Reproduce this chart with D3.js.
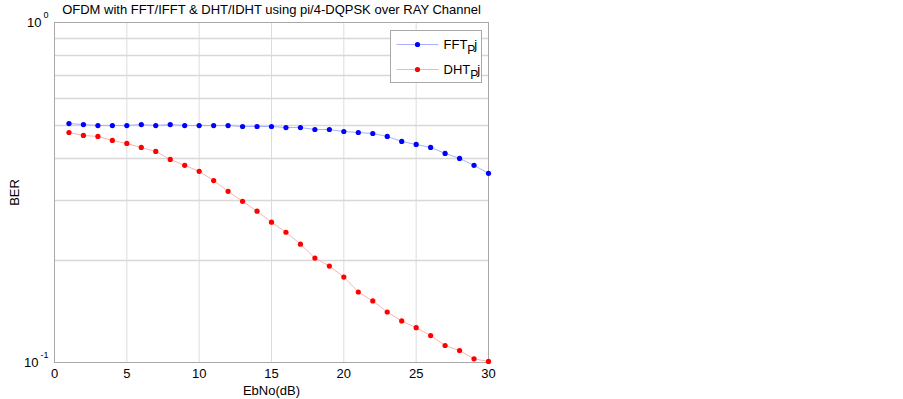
<!DOCTYPE html>
<html>
<head>
<meta charset="utf-8">
<script src="https://cdn.jsdelivr.net/npm/d3@7"></script>
<style>
  body { margin: 0; background: #fff; }
  text { font-family: "Liberation Sans", Arial, sans-serif; fill: #000; }
</style>
</head>
<body>
<script>
// EbNo (dB) values
const ebno = d3.range(1, 31);

// BER, FFT based scheme
const berFFT = [0.5045, 0.501, 0.4977, 0.4977, 0.4977, 0.501, 0.4977, 0.501, 0.4977, 0.4977,
                0.4977, 0.4977, 0.4944, 0.4944, 0.4944, 0.491, 0.491, 0.4845, 0.4845, 0.478,
                0.4748, 0.4716, 0.4622, 0.4468, 0.4378, 0.4291, 0.4121, 0.3984, 0.380, 0.360];

// BER, DHT based scheme
const berDHT = [0.4748, 0.4653, 0.4622, 0.4498, 0.4408, 0.4291, 0.4177, 0.3957, 0.380, 0.3649,
                0.3429, 0.3188, 0.2979, 0.2786, 0.2586, 0.2416, 0.2229, 0.2028, 0.1921, 0.1784,
                0.1612, 0.1517, 0.1408, 0.1325, 0.1266, 0.1200, 0.1122, 0.1084, 0.1025, 0.1007];

const xTicks = [0, 5, 10, 15, 20, 25, 30];
const yGrid = [0.2, 0.3, 0.4, 0.5, 0.6, 0.7, 0.8, 0.9];
const yMajor = [{v: 1, exp: "0"}, {v: 0.1, exp: "-1"}];

const series = [
  {name: "FFT", values: berFFT, line: "#a8b0ff", dot: "#0000ff"},
  {name: "DHT", values: berDHT, line: "#ffb0b0", dot: "#ff0000"}
];

const width = 903, height = 399;
const margin = {top: 22.5, right: 414.5, bottom: 36.5, left: 54.5};

const svg = d3.select("body").append("svg")
    .attr("width", width)
    .attr("height", height);

const x = d3.scaleLinear()
    .domain([0, 30])
    .range([margin.left, width - margin.right]);

const y = d3.scaleLog()
    .domain([0.1, 1])
    .range([height - margin.bottom, margin.top]);

// grid
svg.append("g")
    .attr("stroke", "#dcdcdc")
    .selectAll("line")
    .data(xTicks.slice(1, -1))
    .join("line")
      .attr("x1", d => x(d)).attr("x2", d => x(d))
      .attr("y1", y(1)).attr("y2", y(0.1));

svg.append("g")
    .attr("stroke", "#d8d8d8")
    .attr("stroke-width", 1.3)
    .selectAll("line")
    .data(yGrid)
    .join("line")
      .attr("x1", x(0)).attr("x2", x(30))
      .attr("y1", d => Math.round(y(d)) + 0.5).attr("y2", d => Math.round(y(d)) + 0.5);

// frame
svg.append("rect")
    .attr("x", x(0)).attr("y", y(1))
    .attr("width", x(30) - x(0))
    .attr("height", y(0.1) - y(1))
    .attr("fill", "none")
    .attr("stroke", "#a8a8a8");

// x tick labels
svg.append("g")
    .selectAll("text")
    .data(xTicks)
    .join("text")
      .attr("x", d => x(d))
      .attr("y", y(0.1) + 15.5)
      .attr("text-anchor", "middle")
      .attr("font-size", 13)
      .text(d => d);

// y tick labels with exponent
const yl = svg.append("g")
    .selectAll("text")
    .data(yMajor)
    .join("text")
      .attr("x", x(0) - 6)
      .attr("y", d => y(d.v) + 4)
      .attr("text-anchor", "end")
      .attr("font-size", 13);
yl.append("tspan").text("10");
yl.append("tspan").attr("dx", 2).attr("dy", -9).attr("font-size", 9).text(d => d.exp);

// lines and markers
const line = d3.line()
    .x((d, i) => x(ebno[i]))
    .y(d => y(d));

const sg = svg.append("g")
    .selectAll("g")
    .data(series)
    .join("g");

sg.append("path")
    .attr("fill", "none")
    .attr("stroke", d => d.line)
    .attr("stroke-width", 1)
    .attr("d", d => line(d.values));

sg.selectAll("circle")
    .data(d => d.values.map((v, i) => ({v, i, c: d.dot})))
    .join("circle")
      .attr("cx", d => x(ebno[d.i]))
      .attr("cy", d => y(d.v))
      .attr("r", 2.6)
      .attr("fill", d => d.c);

// title and axis labels
svg.append("text")
    .attr("x", (x(0) + x(30)) / 2)
    .attr("y", 14)
    .attr("text-anchor", "middle")
    .attr("font-size", 13)
    .text("OFDM with FFT/IFFT & DHT/IDHT using pi/4-DQPSK over RAY Channel");

svg.append("text")
    .attr("x", (x(0) + x(30)) / 2)
    .attr("y", 395)
    .attr("text-anchor", "middle")
    .attr("font-size", 13)
    .text("EbNo(dB)");

svg.append("text")
    .attr("transform", `translate(19,${(y(1) + y(0.1)) / 2}) rotate(-90)`)
    .attr("text-anchor", "middle")
    .attr("font-size", 13)
    .text("BER");

// legend
const lg = svg.append("g").attr("transform", "translate(390.5,30.5)");
lg.append("rect")
    .attr("width", 91).attr("height", 52)
    .attr("fill", "#fff")
    .attr("stroke", "#a8a8a8");

const li = lg.selectAll("g.item")
    .data(series)
    .join("g")
      .attr("class", "item")
      .attr("transform", (d, i) => `translate(0,${14 + i * 25})`);

li.append("line")
    .attr("x1", 6).attr("x2", 48)
    .attr("stroke", d => d.line);
li.append("circle")
    .attr("cx", 27).attr("r", 2.6)
    .attr("fill", d => d.dot);

const lt = li.append("text")
    .attr("x", 53).attr("y", 4)
    .attr("font-size", 13);
lt.append("tspan").text(d => d.name);
lt.append("tspan").attr("dy", 5).attr("font-size", 12).text("P");
lt.append("tspan").attr("dx", -1).attr("dy", -5).text("j");
</script>
</body>
</html>
